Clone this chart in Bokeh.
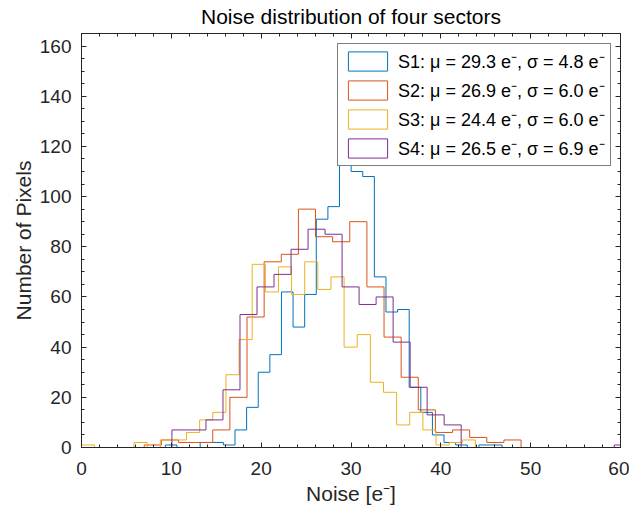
from bokeh.plotting import figure
from bokeh.models import (LinearAxis, SingleIntervalTicker, Range1d, Legend,
                          LegendItem, CustomJSTickFormatter)
from bokeh.embed import file_html
from bokeh.resources import INLINE

# ---------------- data ----------------
title_text = "Noise distribution of four sectors"
series_names = [
    "S1: \u03bc = 29.3 e\u207b, \u03c3 = 4.8 e\u207b",
    "S2: \u03bc = 26.9 e\u207b, \u03c3 = 6.0 e\u207b",
    "S3: \u03bc = 24.4 e\u207b, \u03c3 = 6.0 e\u207b",
    "S4: \u03bc = 26.5 e\u207b, \u03c3 = 6.9 e\u207b",
]

# bin start and bin width (e-) of each sector's histogram
s1_bin_start, s1_bin_width = 9.333, 1.2926
s2_bin_start, s2_bin_width = 6.985, 1.9066
s3_bin_start, s3_bin_width = 0.0, 1.4616
s4_bin_start, s4_bin_width = 10.067, 1.894

s1_counts = [1, 0, 0, 2, 2, 1, 7, 16, 30, 37, 62, 48, 61, 91, 96, 125, 110,
             108, 68, 54, 55, 24, 14, 5, 2, 1, 0, 1, 1]
s2_counts = [1, 3, 2, 2, 7, 20, 52, 74, 77, 95, 84, 82, 90, 64, 44, 28, 15,
             6, 7, 4, 2, 3]
s3_counts = [1, 0, 0, 0, 2, 0, 3, 3, 6, 11, 14, 29, 43, 73, 62, 72, 61, 74,
             63, 68, 40, 45, 26, 22, 9, 14, 7, 1, 2, 3]
s4_counts = [7, 7, 11, 23, 53, 64, 69, 79, 87, 85, 64, 57, 60, 42, 24, 13, 9,
             0, 0, 0, 0, 0, 0, 0, 0, 0, 1]

x_ticks_major = 10
y_ticks_major = 20

colors = ["#0072BD", "#D95319", "#EDB120", "#7E2F8E"]
FONT = "Liberation Sans"
AX = "#262626"
NAN = float("nan")
FW, FH = 539, 414


def stairs(start, width, counts):
    xs, ys = [start], [0]
    for i, c in enumerate(counts):
        x0 = start + i * width
        xs += [x0, x0 + width]
        ys += [c, c]
    xs.append(start + len(counts) * width)
    ys.append(0)
    return xs, ys


p = figure(frame_width=FW, frame_height=FH,
           x_range=Range1d(0, 60), y_range=Range1d(0, 165),
           output_backend="svg", toolbar_location=None,
           min_border_left=81, min_border_right=9,
           min_border_top=33, min_border_bottom=68,
           background_fill_color="white", border_fill_color="white")

p.title.text = title_text
p.title.align = "center"
p.title.vertical_align = "top"
p.title.text_font = FONT
p.title.text_font_size = "21px"
p.title.text_font_style = "normal"
p.title.text_color = "#000000"
p.title.standoff = 8

p.grid.visible = False
p.outline_line_color = AX
p.outline_line_width = 1

xt = SingleIntervalTicker(interval=x_ticks_major, num_minor_ticks=5)
yt = SingleIntervalTicker(interval=y_ticks_major, num_minor_ticks=4)

ax_b = p.below[0]
ax_l = p.left[0]
ax_b.ticker = xt
ax_l.ticker = yt
ax_b.axis_label = "Noise [e\u207b]"
ax_l.axis_label = "Number of Pixels"

blank = CustomJSTickFormatter(code="return ''")
ax_t = LinearAxis(ticker=xt, formatter=blank)
ax_r = LinearAxis(ticker=yt, formatter=blank)
p.add_layout(ax_t, "above")
p.add_layout(ax_r, "right")

for ax in (ax_b, ax_l, ax_t, ax_r):
    ax.axis_line_color = AX
    ax.major_tick_line_color = AX
    ax.minor_tick_line_color = AX
    ax.major_tick_in = 5
    ax.major_tick_out = 0
    ax.minor_tick_in = 3
    ax.minor_tick_out = 0
    ax.major_label_text_font = FONT
    ax.major_label_text_font_size = "19px"
    ax.major_label_text_color = AX
    ax.axis_label_text_font = FONT
    ax.axis_label_text_font_size = "21px"
    ax.axis_label_text_font_style = "normal"
    ax.axis_label_text_color = AX

for ax in (ax_t, ax_r):
    ax.major_label_standoff = 0
    ax.major_label_text_font_size = "0px"

ax_b.major_label_standoff = 14
ax_b.axis_label_standoff = 4
ax_l.major_label_standoff = 10
ax_l.axis_label_standoff = 2

all_counts = [s1_counts, s2_counts, s3_counts, s4_counts]
starts = [s1_bin_start, s2_bin_start, s3_bin_start, s4_bin_start]
widths = [s1_bin_width, s2_bin_width, s3_bin_width, s4_bin_width]

items = []
for name, col, st, w, cnt in zip(series_names, colors, starts, widths, all_counts):
    xs, ys = stairs(st, w, cnt)
    p.line(xs, ys, line_color=col, line_width=1)
    sw = p.quad(left=[NAN], right=[NAN], top=[NAN], bottom=[NAN],
                fill_color="white", line_color=col, line_width=1)
    items.append(LegendItem(label=name, renderers=[sw]))

legend = Legend(items=items, location=(256, 281))
legend.padding = 5
legend.spacing = 5
legend.glyph_width = 49
legend.glyph_height = 24
legend.label_standoff = 6
legend.label_text_font = FONT
legend.label_text_font_size = "18px"
legend.label_text_color = "#000000"
legend.border_line_color = "#000000"
legend.border_line_width = 1
legend.background_fill_color = "white"
legend.background_fill_alpha = 1.0
p.add_layout(legend, "center")

open("out.html", "w").write(file_html(p, INLINE))
